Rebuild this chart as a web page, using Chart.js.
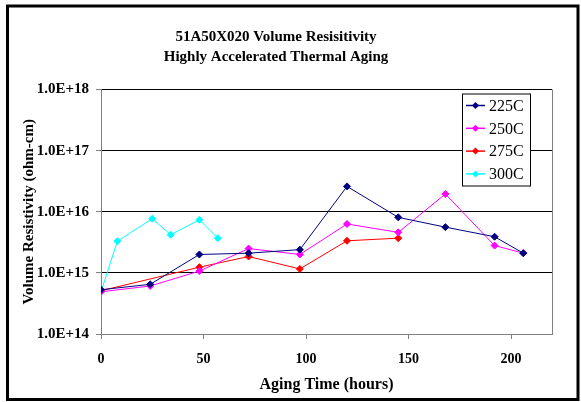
<!DOCTYPE html>
<html>
<head>
<meta charset="utf-8">
<script src="https://cdn.jsdelivr.net/npm/chart.js@4.4.0/dist/chart.umd.min.js"></script>
<style>
  body { margin: 0; background: #fff; }
  #wrap { width: 581px; height: 402px; }
</style>
</head>
<body>
<div id="wrap"><canvas id="grafico" width="581" height="402"></canvas></div>
<script>
// hours and resistivity (ohm-cm)
var horas225 = [0, 24, 48, 72, 97, 120, 145, 168, 192, 206];
var valores225 = [5.3e14, 6.5e14, 2.0e15, 2.1e15, 2.4e15, 2.6e16, 8.1e15, 5.6e15, 3.9e15, 2.1e15];

var horas250 = [0, 24, 48, 72, 97, 120, 145, 168, 192, 206];
var valores250 = [4.9e14, 6.1e14, 1.07e15, 2.5e15, 2.0e15, 6.3e15, 4.6e15, 1.95e16, 2.8e15, 2.1e15];

var horas275 = [0, 48, 72, 97, 120, 145];
var valores275 = [5.1e14, 1.24e15, 1.85e15, 1.16e15, 3.35e15, 3.7e15];

var horas300 = [0, 8, 25, 34, 48, 57];
var valores300 = [4.9e14, 3.3e15, 7.7e15, 4.2e15, 7.4e15, 3.7e15];

var rotulos = ["225C", "250C", "275C", "300C"];
var cores = ["#000080", "#FF00FF", "#FF0000", "#00FFFF"];
var ticksY = [1e14, 1e15, 1e16, 1e17, 1e18];
var ticksX = [0, 50, 100, 150, 200];

var fonteSerif = "'Liberation Serif', 'Times New Roman', serif";

function montarPontos(horas, valores) {
  var pontos = [];
  for (var i = 0; i < horas.length; i++) {
    pontos.push({ x: horas[i], y: valores[i] });
  }
  return pontos;
}

var series = [
  montarPontos(horas225, valores225),
  montarPontos(horas250, valores250),
  montarPontos(horas275, valores275),
  montarPontos(horas300, valores300),
];

var datasets = series.map(function (pontos, i) {
  return {
    label: rotulos[i],
    data: pontos,
    borderColor: cores[i],
    backgroundColor: cores[i],
    borderWidth: 1,
    pointStyle: "rectRot",
    pointRadius: 3.5,
    pointHoverRadius: 3.5,
    tension: 0,
  };
});

// white page with a black frame, grey border round the plot area, legend box
var moldura = {
  id: "moldura",
  beforeDraw: function (chart) {
    var ctx = chart.ctx;
    ctx.save();
    ctx.fillStyle = "#fff";
    ctx.fillRect(0, 0, chart.width, chart.height);
    ctx.strokeStyle = "#000";
    ctx.lineWidth = 3;
    ctx.beginPath();
    ctx.moveTo(7.5, chart.height - 2.5);
    ctx.lineTo(7.5, 6);
    ctx.lineTo(chart.width - 3, 6);
    ctx.lineTo(chart.width - 3, chart.height - 2.5);
    ctx.closePath();
    ctx.stroke();
    ctx.restore();
  },
  afterDatasetsDraw: function (chart) {
    var a = chart.chartArea;
    var ctx = chart.ctx;
    ctx.save();
    ctx.strokeStyle = "#808080";
    ctx.lineWidth = 1;
    ctx.beginPath();
    ctx.moveTo(a.right + 0.5, a.top);
    ctx.lineTo(a.right + 0.5, a.bottom);
    ctx.stroke();

    // legend box
    var x0 = a.right - 90, y0 = a.top + 4, w = 68, h = 92;
    ctx.fillStyle = "#fff";
    ctx.fillRect(x0, y0, w, h);
    ctx.strokeStyle = "#000";
    ctx.strokeRect(x0 + 0.5, y0 + 0.5, w, h);
    ctx.font = "16px " + fonteSerif;
    ctx.textBaseline = "middle";
    chart.data.datasets.forEach(function (ds, i) {
      var yy = y0 + 12 + i * 22.8;
      ctx.strokeStyle = ds.borderColor;
      ctx.lineWidth = 1.5;
      ctx.beginPath();
      ctx.moveTo(x0 + 4, yy);
      ctx.lineTo(x0 + 23, yy);
      ctx.stroke();
      ctx.fillStyle = ds.borderColor;
      ctx.beginPath();
      ctx.moveTo(x0 + 13.5, yy - 3.5);
      ctx.lineTo(x0 + 17, yy);
      ctx.lineTo(x0 + 13.5, yy + 3.5);
      ctx.lineTo(x0 + 10, yy);
      ctx.closePath();
      ctx.fill();
      ctx.fillStyle = "#000";
      ctx.fillText(ds.label, x0 + 27, yy + 1);
    });
    ctx.restore();
  },
};

const config = {
  type: "line",
  data: { datasets: datasets },
  options: {
    responsive: false,
    animation: { duration: 0 },
    layout: { padding: { left: 0, right: 29, top: 8, bottom: 4 } },
    plugins: {
      legend: { display: false },
      tooltip: { enabled: false },
      title: {
        display: true,
        text: ["51A50X020 Volume Resisitivity", "Highly Accelerated Thermal Aging"],
        color: "#000",
        font: { family: fonteSerif, size: 15, weight: "bold", lineHeight: 1.35 },
        padding: { top: 19, bottom: 22 },
      },
    },
    scales: {
      x: {
        type: "linear",
        min: 0,
        max: 220,
        afterBuildTicks: function (scale) {
          scale.ticks = ticksX.map(function (v) { return { value: v }; });
        },
        afterFit: function (scale) { scale.height = 64; },
        grid: { drawOnChartArea: false, color: "#808080", tickLength: 5 },
        border: { color: "#808080" },
        ticks: {
          color: "#000",
          padding: 12,
          maxRotation: 0,
          font: { family: fonteSerif, size: 14, weight: "bold" },
        },
        title: {
          display: true,
          text: "Aging Time (hours)",
          color: "#000",
          font: { family: fonteSerif, size: 16, weight: "bold" },
          padding: { top: 6 },
        },
      },
      y: {
        type: "logarithmic",
        min: 1e14,
        max: 1e18,
        afterBuildTicks: function (scale) {
          scale.ticks = ticksY.map(function (v) { return { value: v }; });
        },
        afterFit: function (scale) { scale.width = 101; },
        grid: { color: "#000", tickLength: 5, tickColor: "#808080" },
        border: { color: "#808080" },
        ticks: {
          color: "#000",
          padding: 7,
          font: { family: fonteSerif, size: 15, weight: "bold" },
          callback: function (v) {
            var exp = Math.round(Math.log10(v));
            return "1.0E+" + exp;
          },
        },
        title: {
          display: true,
          text: "Volume Resistivity (ohm-cm)",
          color: "#000",
          font: { family: fonteSerif, size: 15, weight: "bold" },
          padding: { top: 20 },
        },
      },
    },
  },
  plugins: [moldura],
};

var grafico = new Chart(document.getElementById("grafico"), config);
</script>
</body>
</html>
